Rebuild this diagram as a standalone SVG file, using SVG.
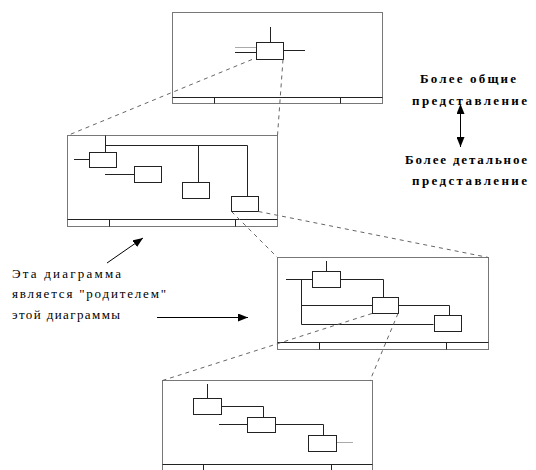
<svg xmlns="http://www.w3.org/2000/svg" width="536" height="470" viewBox="0 0 536 470">
<style>
.frame{fill:none;stroke:#777;stroke-width:1}
.foot{fill:none;stroke:#222;stroke-width:1}
.box{fill:#fff;stroke:#222;stroke-width:1}
.ln{fill:none;stroke:#222;stroke-width:1}
.lt{fill:none;stroke:#aaa;stroke-width:1}
.dash{fill:none;stroke:#666;stroke-width:1;stroke-dasharray:4 4}
.arr{fill:none;stroke:#000;stroke-width:1}
.t1{font-family:"Liberation Serif",serif;font-weight:bold;font-size:13px;fill:#000}
.t2{font-family:"Liberation Serif",serif;font-size:13px;fill:#000}
</style>
<defs>
<marker id="ah" viewBox="0 0 10 8" refX="10" refY="4" markerWidth="10" markerHeight="8" markerUnits="userSpaceOnUse" orient="auto">
<path d="M0,0 L10,4 L0,8 Z" fill="#000"/>
</marker>
<marker id="ahs" viewBox="0 0 10 8" refX="0" refY="4" markerWidth="10" markerHeight="8" markerUnits="userSpaceOnUse" orient="auto-start-reverse">
<path d="M0,0 L10,4 L0,8 Z" fill="#000"/>
</marker>
</defs>
<rect width="536" height="470" fill="#fff"/>

<g id="frame1">
<rect class="frame" x="172.5" y="12.5" width="210" height="91"/>
<path class="foot" d="M172.5,97.5 H382.5 M214.5,97.5 V103.5 M340.5,97.5 V103.5"/>
<path class="ln" d="M270.5,27 V42.5 M235,52.5 H256.5 M283.5,50.5 H305"/>
<path class="lt" d="M235,47.5 H256.5"/>
<rect class="box" x="256.5" y="42.5" width="27" height="17"/>
</g>

<g id="frame2">
<rect class="frame" x="67.5" y="135.5" width="210" height="91"/>
<path class="foot" d="M67.5,219.5 H277.5 M109.5,219.5 V226.5 M235.5,219.5 V226.5"/>
<path class="ln" d="M105.5,135.5 V152.5 M105.5,145.5 H247.5 V196.5 M198.5,145.5 V182.5 M74,159.5 H89.5 M105,174.5 H134.5"/>
<rect class="box" x="89.5" y="152.5" width="27" height="15"/>
<rect class="box" x="134.5" y="166.5" width="27" height="16"/>
<rect class="box" x="182.5" y="182.5" width="27" height="16"/>
<rect class="box" x="231.5" y="196.5" width="27" height="15"/>
</g>

<g id="frame3">
<rect class="frame" x="277.5" y="257.5" width="211" height="92"/>
<path class="foot" d="M277.5,342.5 H488.5 M319.5,342.5 V349.5 M446.5,342.5 V349.5"/>
<path class="ln" d="M326.5,261 V271.5 M286,279.5 H312.5 M340.5,279.5 H383.5 V297.5 M301.5,279.5 V324.5 H433.5 M301.5,305.5 H372.5 M398.5,305.5 H449.5 V315.5"/>
<rect class="box" x="312.5" y="271.5" width="28" height="16"/>
<rect class="box" x="372.5" y="297.5" width="26" height="16"/>
<rect class="box" x="434.5" y="315.5" width="27" height="16"/>
</g>

<g id="frame4">
<rect class="frame" x="162.5" y="380.5" width="210" height="92"/>
<path class="foot" d="M162.5,464.5 H372.5 M203.5,464.5 V472 M331.5,464.5 V472"/>
<path class="ln" d="M207.5,384 V398.5 M221.5,406.5 H263.5 V417.5 M219,424.5 H247.5 M275.5,424.5 H323.5 V435.5"/>
<path class="lt" d="M336.5,442.5 H353"/>
<rect class="box" x="193.5" y="398.5" width="28" height="16"/>
<rect class="box" x="247.5" y="417.5" width="28" height="15"/>
<rect class="box" x="308.5" y="435.5" width="28" height="16"/>
</g>

<g id="connectors">
<path class="dash" d="M252,59.5 L67.5,135.5"/>
<path class="dash" d="M283,59.5 L277.5,135.5"/>
<path class="dash" d="M258.5,211.5 L488.5,257.5"/>
<path class="dash" d="M231.5,211.5 L277.5,257.5"/>
<path class="dash" d="M372,313.5 L162.5,380.5"/>
<path class="dash" d="M398,313.5 L370,380.5"/>
<path class="arr" d="M107,263 L143,238" marker-end="url(#ah)"/>
<path class="arr" d="M157,317.5 H248" marker-end="url(#ah)"/>
<path class="arr" d="M460.5,114 V147" marker-start="url(#ahs)" marker-end="url(#ah)"/>
</g>

<g id="label-general">
<text class="t1" x="420" y="83" textLength="96" lengthAdjust="spacing">Более общие</text>
<text class="t1" x="412" y="105" textLength="115" lengthAdjust="spacing">представление</text>
</g>
<g id="label-detailed">
<text class="t1" x="405" y="164" textLength="122" lengthAdjust="spacing">Более детальное</text>
<text class="t1" x="412" y="185" textLength="115" lengthAdjust="spacing">представление</text>
</g>
<g id="label-parent">
<text class="t2" x="12" y="278" textLength="109" lengthAdjust="spacing">Эта диаграмма</text>
<text class="t2" x="12" y="298" textLength="154" lengthAdjust="spacing">является "родителем"</text>
<text class="t2" x="12" y="319" textLength="108" lengthAdjust="spacing">этой диаграммы</text>
</g>
</svg>
